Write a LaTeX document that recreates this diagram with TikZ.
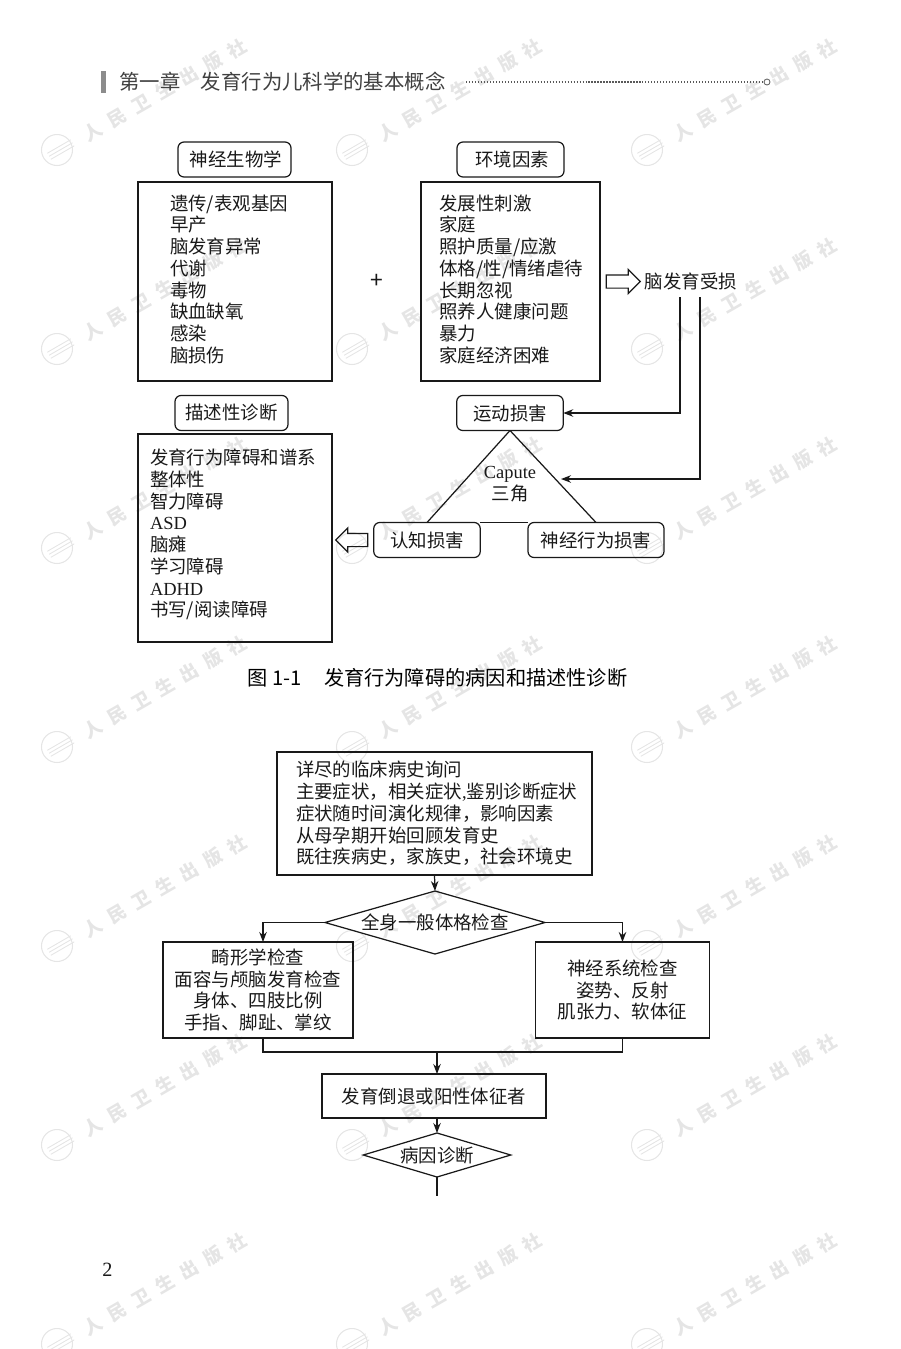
\documentclass[tikz,border=0pt]{standalone}
\usepackage{fontspec}
\setmainfont{Noto Sans CJK SC}
\newfontfamily\latinfont{Liberation Serif}
\usetikzlibrary{arrows.meta,shapes.geometric,shapes.arrows}
\definecolor{markgray}{gray}{0.9}
\definecolor{barcolor}{gray}{0.55}
\definecolor{inkcolor}{gray}{0.1}
\newcommand{\bodyfont}{\fontsize{10.5}{12.36}\selectfont}
\newcommand{\tailgap}[1]{\rule[-#1]{0pt}{0pt}}
\begin{document}
\begin{tikzpicture}[
    every node/.style={text=inkcolor},
    title/.style={rectangle, draw=inkcolor, line width=0.7pt, rounded corners=0.12cm, align=center, minimum height=0.7cm, inner sep=0pt, outer sep=0pt, font=\bodyfont},
    bodybox/.style={rectangle, draw=inkcolor, line width=0.7pt, align=left, inner ysep=0pt, outer sep=0pt, font=\bodyfont},
    flowbox/.style={rectangle, draw=inkcolor, line width=0.7pt, align=center, inner sep=0pt, outer sep=0pt, font=\bodyfont},
    decision/.style={diamond, draw=inkcolor, line width=0.7pt, inner sep=0pt, outer sep=0pt, font=\bodyfont},
    openarrow/.style={single arrow, draw=inkcolor, line width=0.7pt, inner sep=0.12cm, single arrow head extend=0.11cm, single arrow head indent=0cm},
    plain/.style={align=center, inner sep=0pt, font=\bodyfont},
    wire/.style={draw=inkcolor, line width=0.7pt},
    arrow/.style={wire, -{Stealth[length=0.2cm,width=0.15cm]}},
    wmark/.style={text=markgray, rotate=30, inner sep=0pt, font=\fontsize{10.5}{12}\selectfont\bfseries}
]
\useasboundingbox (0,0) rectangle (18,-26.98);

% watermark
\foreach \col in {0,1,2}
  \foreach \row in {0,...,6}{
    \node[wmark] (mark\col\row) at (3.3+5.9*\col,-1.8-3.98*\row) {人\hspace{0.5em}民\hspace{0.5em}卫\hspace{0.5em}生\hspace{0.5em}出\hspace{0.5em}版\hspace{0.5em}社};
    \node[circle, draw=markgray, line width=0.6pt, minimum size=0.62cm, inner sep=0pt] (logo\col\row) at (1.14+5.9*\col,-3-3.98*\row) {};
    \foreach \s in {0,0.07,0.14}
      \draw[markgray, line width=0.5pt, shift={(logo\col\row.center)}, rotate=30] (-0.2,-0.1+\s) -- (0.34,-0.1+\s);
  }

% header
\node[rectangle, fill=barcolor, minimum width=0.09cm, minimum height=0.44cm, inner sep=0pt] (bar) at (2.07,-1.64) {};
\node[plain, anchor=west, text=black!75, font=\fontsize{11.6}{13}\selectfont] (chapter) at (2.38,-1.64) {第一章\hspace{1em}发育行为儿科学的基本概念};
\node[circle, draw=black!60, line width=0.5pt, minimum size=0.12cm, inner sep=0pt] (headend) at (15.34,-1.64) {};
\draw[black!65, line width=0.7pt, densely dotted] (9.32,-1.64) -- (headend);

% first figure
\node[title, minimum width=2.26cm] (neuro) at (4.69,-3.19) {\hspace{0.06cm}神经生物学};
\node[title, minimum width=2.14cm] (envir) at (10.21,-3.19) {\hspace{0.06cm}环境因素};
\node[bodybox, minimum height=3.98cm, text width=2.6cm, inner xsep=0.64cm] (neurobody) at (4.70,-5.63) {遗传/表观基因\\早产\\脑发育异常\\代谢\\毒物\\缺血缺氧\\感染\\脑损伤\tailgap{0.124cm}};
\node[bodybox, minimum height=3.98cm, text width=2.84cm, inner xsep=0.37cm] (envirbody) at (10.21,-5.63) {发展性刺激\\家庭\\照护质量/应激\\体格/性/情绪虐待\\长期忽视\\照养人健康问题\\暴力\\家庭经济困难\tailgap{0.124cm}};
\node[plain, font=\fontsize{13}{14}\selectfont] (plus) at (7.54,-5.62) {+};
\node[openarrow, minimum height=0.68cm] (toright) at (12.40,-5.63) {};
\node[plain, minimum height=0.64cm] (damage) at (13.82,-5.62) {脑发育受损};

\node[title, minimum width=2.13cm] (motor) at (10.2,-8.26) {运动损害};
\node[title, minimum width=2.13cm] (cognit) at (8.54,-10.8) {认知损害};
\node[title, minimum width=2.72cm] (behav) at (11.92,-10.8) {神经行为损害};
\node[plain] (capute) at (10.2,-9.68) {\latinfont Capute\\三角};
\coordinate (triside) at (11.22,-9.58);

\node[title, minimum width=2.26cm] (descr) at (4.63,-8.26) {描述性诊断};
\node[bodybox, minimum height=4.16cm, text width=3.4cm, inner xsep=0.24cm] (descrbody) at (4.70,-10.76) {发育行为障碍和谱系\\整体性\\智力障碍\\{\latinfont ASD}\\脑瘫\\学习障碍\\{\latinfont ADHD}\\书写/阅读障碍\tailgap{0.2cm}};
\node[openarrow, minimum height=0.64cm, shape border rotate=180] (toleft) at (7.1,-10.8) {};
\node[plain, text=black, font=\fontsize{11.5}{13}\selectfont] (figcap) at (8.75,-13.56) {图 1-1\hspace{1.1em}发育行为障碍的病因和描述性诊断};

\draw[arrow] ([xshift=-0.22cm]damage.south) |- (motor.east);
\draw[arrow] ([xshift=0.18cm]damage.south) |- (triside);
\draw[wire] (motor.south) -- (cognit.north);
\draw[wire] (motor.south) -- (behav.north);
\draw[wire] (cognit.north east) -- (behav.north west);

% second figure
\node[bodybox, minimum height=2.46cm, text width=5.54cm, inner xsep=0.38cm] (history) at (8.69,-16.27) {详尽的临床病史询问\\主要症状，相关症状{\latinfont ,}鉴别诊断症状\\症状随时间演化规律，影响因素\\从母孕期开始回顾发育史\\既往疾病史，家族史，社会环境史};
\node[decision, minimum width=4.4cm, minimum height=1.26cm, aspect=3.5] (exam) at (8.7,-18.45) {全身一般体格检查};
\node[flowbox, minimum width=3.8cm, minimum height=1.92cm] (dysmorph) at (5.16,-19.8) {畸形学检查\\面容与颅脑发育检查\\身体、四肢比例\\手指、脚趾、掌纹};
\node[flowbox, minimum width=3.47cm, minimum height=1.92cm] (neuroexam) at (12.45,-19.8) {神经系统检查\\姿势、反射\\肌张力、软体征};
\coordinate (merge) at (8.74,-21.04);
\node[flowbox, minimum width=4.48cm, minimum height=0.88cm] (regress) at (8.68,-21.92) {发育倒退或阳性体征者};
\node[decision, minimum width=2.95cm, minimum height=0.88cm, aspect=3.35] (cause) at (8.74,-23.1) {病因诊断};
\coordinate (causeend) at (8.74,-23.92);

\draw[arrow] (history.south) -- (exam.north);
\draw[arrow] (exam.west) -| ([xshift=0.1cm]dysmorph.north);
\draw[arrow] (exam.east) -| (neuroexam.north);
\draw[wire] ([xshift=0.1cm]dysmorph.south) |- (merge) -| (neuroexam.south);
\draw[arrow] (merge) -- (merge |- regress.north);
\draw[arrow] (cause.north |- regress.south) -- (cause.north);
\draw[wire] (cause.south) -- (causeend);

\node[plain, font=\fontsize{11.5}{13}\selectfont\latinfont] (pagenum) at (2.15,-25.4) {2};
\end{tikzpicture}
\end{document}
